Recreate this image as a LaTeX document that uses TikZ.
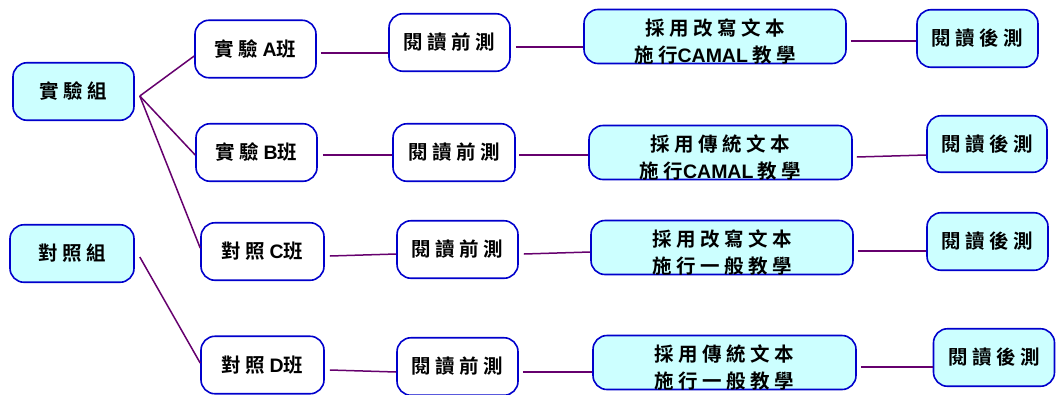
\documentclass[tikz,border=0pt]{standalone}
\usepackage{fontspec}
\setmainfont{Noto Sans CJK TC Bold}
\newfontfamily\lat{Liberation Sans Bold}
\usetikzlibrary{calc}
\definecolor{bordblue}{RGB}{0,0,204}
\definecolor{cyanfill}{RGB}{204,255,255}
\definecolor{linkpurple}{RGB}{102,0,110}
\newcommand{\twoline}[2]{\raisebox{-7pt}[\height][\depth]{\begin{tabular}{@{}c@{}}#1\\#2\end{tabular}}}
\tikzset{
  box/.style={draw=bordblue, line width=1.6pt, rounded corners=14pt, inner sep=0pt,
    font=\fontsize{19.5}{27}\selectfont, minimum height=57.5},
  cbox/.style={box, fill=cyanfill},
  wbox/.style={box, fill=white},
  link/.style={draw=linkpurple, line width=1.5pt},
  linkthick/.style={draw=linkpurple, line width=2.5pt}
}
\begin{document}
\begin{tikzpicture}[x=1pt,y=-1pt]
\useasboundingbox[fill=white] (0,0) rectangle (1057,394);
% groups
\node[cbox, minimum width=121] (G1) at (73.5,91.5) {實 驗 組};
\node[cbox, minimum width=124] (G2) at (72,253.5) {對 照 組};
% classes
\node[wbox, minimum width=121] (A) at (255.5,49) {實 驗 {\lat A}班};
\node[wbox, minimum width=121] (B) at (256.5,152.5) {實 驗 {\lat B}班};
\node[wbox, minimum width=123] (C) at (262.5,251.5) {對 照 {\lat C}班};
\node[wbox, minimum width=123] (D) at (262.5,365) {對 照 {\lat D}班};
% pre-tests
\node[wbox, minimum width=121] (PA) at (449.5,42.5) {閱 讀 前 測};
\node[wbox, minimum width=122] (PB) at (454,152.5) {閱 讀 前 測};
\node[wbox, minimum width=121] (PC) at (457.5,249.5) {閱 讀 前 測};
\node[wbox, minimum width=121] (PD) at (457.5,366.5) {閱 讀 前 測};
% teaching
\node[cbox, minimum width=262, minimum height=49.5] (TA) at (715,36.5) {\twoline{採 用 改 寫 文 本}{施 行{\lat CAMAL} 教 學}};
\node[cbox, minimum width=263, minimum height=49.5] (TB) at (720.5,152.5) {\twoline{採 用 傳 統 文 本}{施 行{\lat CAMAL} 教 學}};
\node[cbox, minimum width=262, minimum height=49.5] (TC) at (722,247.5) {\twoline{採 用 改 寫 文 本}{施 行 一 般 教 學}};
\node[cbox, minimum width=263, minimum height=49.5] (TD) at (724.5,362.5) {\twoline{採 用 傳 統 文 本}{施 行 一 般 教 學}};
% post-tests
\node[cbox, minimum width=121] (QA) at (977.5,38.5) {閱 讀 後 測};
\node[cbox, minimum width=120, minimum height=56.5] (QB) at (987,144) {閱 讀 後 測};
\node[cbox, minimum width=121] (QC) at (987.5,241.5) {閱 讀 後 測};
\node[cbox, minimum width=121] (QD) at (994,357.5) {閱 讀 後 測};
% connectors from groups
\draw[link] ($(G1.east)+(5,4.5)$) -- ($(A.west)+(0,7)$);
\draw[link] ($(G1.east)+(5,4.5)$) -- ($(B.west)+(0,2.5)$);
\draw[link] ($(G1.east)+(5,4.5)$) -- ($(C.west)+(0,-3.5)$);
\draw[link] ($(G2.east)+(5,3.5)$) -- ($(D.west)+(0,-2)$);
% class -> pre-test
\draw[linkthick] ($(A.east)+(4,4)$) -- ($(PA.west)+(0,10.5)$);
\draw[link] ($(B.east)+(5,2.5)$) -- ($(PB.west)+(0,2.5)$);
\draw[link] ($(C.east)+(5,4.5)$) -- ($(PC.west)+(0,4.5)$);
\draw[link] ($(D.east)+(5,5)$) -- ($(PD.west)+(0,5.5)$);
% pre-test -> teaching
\draw[link] ($(PA.east)+(5,4.5)$) -- ($(TA.west)+(0,10.5)$);
\draw[link] ($(PB.east)+(3,2.5)$) -- ($(TB.west)+(0,2.5)$);
\draw[link] ($(PC.east)+(5,4.5)$) -- ($(TC.west)+(0,4.5)$);
\draw[linkthick] ($(PD.east)+(4,5.5)$) -- ($(TD.west)+(0,9.5)$);
% teaching -> post-test
\draw[linkthick] ($(TA.east)+(4,4.5)$) -- ($(QA.west)+(0,2.5)$);
\draw[link] ($(TB.east)+(4,4.5)$) -- ($(QB.west)+(0,11)$);
\draw[linkthick] ($(TC.east)+(4,3.5)$) -- ($(QC.west)+(0,9.5)$);
\draw[linkthick] ($(TD.east)+(4,4.5)$) -- ($(QD.west)+(0,9.5)$);
\end{tikzpicture}
\end{document}
